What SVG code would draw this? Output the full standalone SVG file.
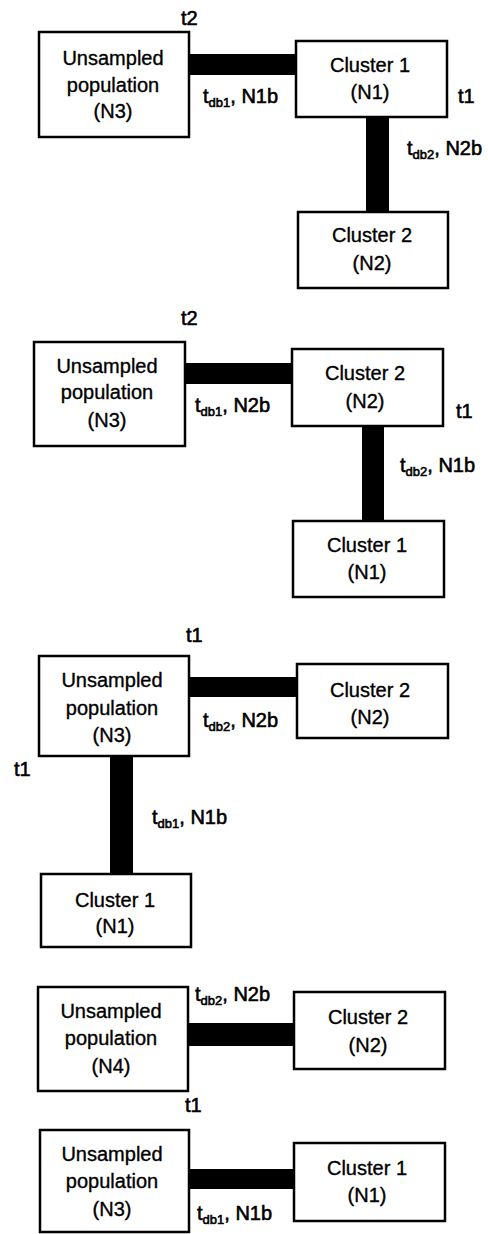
<svg xmlns="http://www.w3.org/2000/svg" width="488" height="1234" viewBox="0 0 488 1234">
<style>
  .box{fill:#fff;stroke:#000;stroke-width:2.5}
  .bar{fill:#000}
  text{font-family:"Liberation Sans",Arial,sans-serif;font-size:20px;fill:#000;stroke:#000;stroke-width:0.35}
  .lbl{stroke-width:0.6}
  .c{text-anchor:middle}
  .sub{font-size:13px}
</style>
<rect width="488" height="1234" fill="#fff"/>

<!-- connectors -->
<g id="connectors">
  <rect class="bar" x="189" y="54" width="107" height="21"/>
  <rect class="bar" x="366" y="117" width="23" height="95"/>
  <rect class="bar" x="185" y="363" width="107" height="21"/>
  <rect class="bar" x="362" y="426" width="22" height="95"/>
  <rect class="bar" x="189" y="677" width="108" height="20"/>
  <rect class="bar" x="110" y="756" width="23" height="118"/>
  <rect class="bar" x="188" y="1023" width="106" height="23"/>
  <rect class="bar" x="189" y="1169" width="105" height="20"/>
</g>

<!-- connector labels -->
<g id="labels">
  <text class="lbl" x="181" y="25">t2</text>
  <text class="lbl" x="203" y="103">t<tspan class="sub" dy="4">db1</tspan><tspan dy="-4">, N1b</tspan></text>
  <text class="lbl" x="458" y="103">t1</text>
  <text class="lbl" x="407" y="155">t<tspan class="sub" dy="4">db2</tspan><tspan dy="-4">, N2b</tspan></text>

  <text class="lbl" x="181" y="325">t2</text>
  <text class="lbl" x="195" y="412">t<tspan class="sub" dy="4">db1</tspan><tspan dy="-4">, N2b</tspan></text>
  <text class="lbl" x="456" y="418">t1</text>
  <text class="lbl" x="400" y="472">t<tspan class="sub" dy="4">db2</tspan><tspan dy="-4">, N1b</tspan></text>

  <text class="lbl" x="186" y="642">t1</text>
  <text class="lbl" x="203" y="727">t<tspan class="sub" dy="4">db2</tspan><tspan dy="-4">, N2b</tspan></text>
  <text class="lbl" x="14" y="776">t1</text>
  <text class="lbl" x="152" y="824">t<tspan class="sub" dy="4">db1</tspan><tspan dy="-4">, N1b</tspan></text>

  <text class="lbl" x="195" y="1001">t<tspan class="sub" dy="4">db2</tspan><tspan dy="-4">, N2b</tspan></text>
  <text class="lbl" x="185" y="1112">t1</text>
  <text class="lbl" x="197" y="1220">t<tspan class="sub" dy="4">db1</tspan><tspan dy="-4">, N1b</tspan></text>
</g>

<!-- section 1 -->
<g id="s1-n3">
  <rect class="box" x="39" y="32" width="150" height="105"/>
  <text class="c" x="113" y="65">Unsampled</text>
  <text class="c" x="113" y="92">population</text>
  <text class="c" x="113" y="118">(N3)</text>
</g>
<g id="s1-n1">
  <rect class="box" x="296" y="41" width="151" height="76"/>
  <text class="c" x="370" y="72">Cluster 1</text>
  <text class="c" x="370" y="99">(N1)</text>
</g>
<g id="s1-n2">
  <rect class="box" x="298" y="212" width="150" height="76"/>
  <text class="c" x="372" y="242">Cluster 2</text>
  <text class="c" x="372" y="270">(N2)</text>
</g>

<!-- section 2 -->
<g id="s2-n3">
  <rect class="box" x="34" y="342" width="151" height="104"/>
  <text class="c" x="107" y="373">Unsampled</text>
  <text class="c" x="107" y="399">population</text>
  <text class="c" x="107" y="427">(N3)</text>
</g>
<g id="s2-n2">
  <rect class="box" x="292" y="349" width="151" height="77"/>
  <text class="c" x="365" y="380">Cluster 2</text>
  <text class="c" x="365" y="408">(N2)</text>
</g>
<g id="s2-n1">
  <rect class="box" x="293" y="521" width="151" height="76"/>
  <text class="c" x="367" y="552">Cluster 1</text>
  <text class="c" x="367" y="579">(N1)</text>
</g>

<!-- section 3 -->
<g id="s3-n3">
  <rect class="box" x="39" y="656" width="150" height="100"/>
  <text class="c" x="112" y="687">Unsampled</text>
  <text class="c" x="112" y="715">population</text>
  <text class="c" x="112" y="742">(N3)</text>
</g>
<g id="s3-n2">
  <rect class="box" x="297" y="664" width="151" height="74"/>
  <text class="c" x="370" y="697">Cluster 2</text>
  <text class="c" x="370" y="724">(N2)</text>
</g>
<g id="s3-n1">
  <rect class="box" x="41" y="874" width="150" height="73"/>
  <text class="c" x="115" y="907">Cluster 1</text>
  <text class="c" x="115" y="933">(N1)</text>
</g>

<!-- section 4 -->
<g id="s4-n4">
  <rect class="box" x="38" y="987" width="150" height="104"/>
  <text class="c" x="111" y="1018">Unsampled</text>
  <text class="c" x="111" y="1045">population</text>
  <text class="c" x="111" y="1073">(N4)</text>
</g>
<g id="s4-n2">
  <rect class="box" x="294" y="992" width="151" height="77"/>
  <text class="c" x="368" y="1024">Cluster 2</text>
  <text class="c" x="368" y="1052">(N2)</text>
</g>
<g id="s4-n3">
  <rect class="box" x="40" y="1130" width="149" height="102"/>
  <text class="c" x="112" y="1161">Unsampled</text>
  <text class="c" x="112" y="1188">population</text>
  <text class="c" x="112" y="1216">(N3)</text>
</g>
<g id="s4-n1">
  <rect class="box" x="294" y="1143" width="151" height="78"/>
  <text class="c" x="367" y="1175">Cluster 1</text>
  <text class="c" x="367" y="1202">(N1)</text>
</g>
</svg>
